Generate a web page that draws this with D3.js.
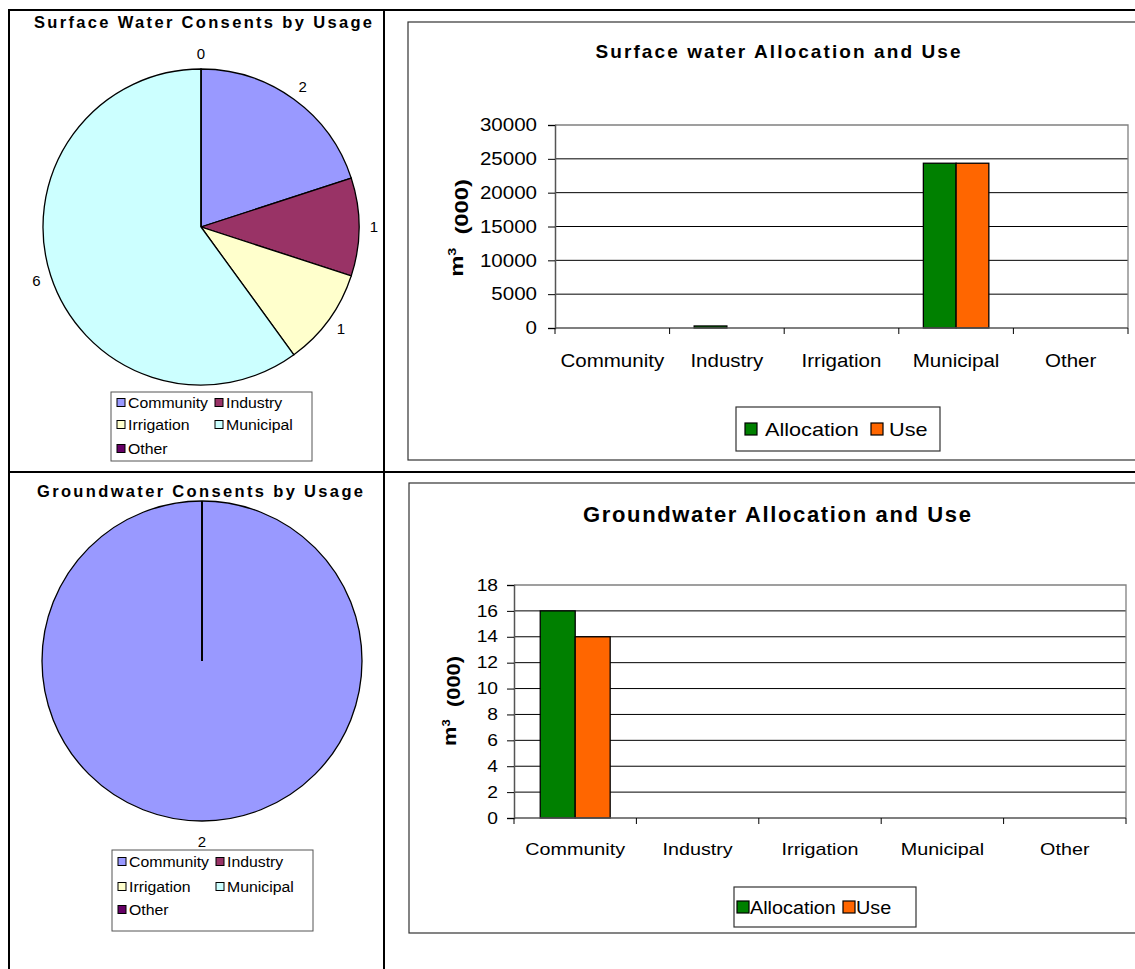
<!DOCTYPE html>
<html><head><meta charset="utf-8">
<script src="https://cdn.jsdelivr.net/npm/d3@7"></script>
<style>
body{margin:0;background:#fff;}
svg{display:block;font-family:Arial,"Liberation Sans",sans-serif;}
</style></head><body>
<svg id="c" width="1135" height="969"></svg>
<script>
// ---- data ----
const usageCategories = ["Community","Industry","Irrigation","Municipal","Other"];
const pieColors = ["#9999FF","#993366","#FFFFCC","#CCFFFF","#660066"];
const surfaceConsents = [2,1,1,6,0];
const groundConsents = [2,null,null,null,null];
const barCategories = ["Community","Industry","Irrigation","Municipal","Other"];
const seriesNames = ["Allocation","Use"];
const seriesColors = ["#008000","#FF6600"];
const surfaceAllocation = [0,300,0,24350,0];
const surfaceUse = [0,0,0,24350,0];
const groundAllocation = [16,0,0,0,0];
const groundUse = [14,0,0,0,0];
const surfaceTicks = [0,5000,10000,15000,20000,25000,30000];
const groundTicks = [0,2,4,6,8,10,12,14,16,18];

const svg = d3.select("#c");

// horizontally widen text like the reference rendering
function stretch(sel,k){
  sel.each(function(){
    const len = this.getComputedTextLength();
    d3.select(this).attr("textLength",len*k).attr("lengthAdjust","spacingAndGlyphs");
  });
}

// ---- table lines ----
const tbl = svg.append("g").attr("stroke","#000").attr("stroke-width",2);
tbl.append("line").attr("x1",8).attr("x2",1135).attr("y1",10).attr("y2",10);
tbl.append("line").attr("x1",8).attr("x2",1135).attr("y1",472).attr("y2",472);
tbl.append("line").attr("x1",9).attr("x2",9).attr("y1",9).attr("y2",969);
tbl.append("line").attr("x1",384).attr("x2",384).attr("y1",9).attr("y2",969);

// ---- pies ----
function drawPie(cfg){
  const g = svg.append("g");
  g.append("text").attr("x",cfg.titleX).attr("y",cfg.titleY).attr("text-anchor","middle")
    .attr("font-weight","bold").attr("font-size",16.5)
    .attr("textLength",cfg.titleLen).attr("lengthAdjust","spacing").text(cfg.title);
  const vals = cfg.values.map(v=>v==null?0:v);
  const pie = d3.pie().sort(null).value(d=>d)(vals);
  const arc = d3.arc().innerRadius(0).outerRadius(cfg.r);
  const pg = g.append("g").attr("transform",`translate(${cfg.cx},${cfg.cy})`);
  pg.selectAll("path").data(pie).join("path").attr("d",arc)
    .attr("fill",(d,i)=>pieColors[i]).attr("stroke","#000").attr("stroke-width",1.3);
  const lab = d3.arc().innerRadius(cfg.r+cfg.lr).outerRadius(cfg.r+cfg.lr);
  pg.selectAll("text").data(pie.filter((d,i)=>cfg.values[i]!=null)).join("text")
    .attr("transform",d=>`translate(${lab.centroid(d)})`)
    .attr("text-anchor","middle").attr("dy","0.36em").attr("font-size",15)
    .text(d=>d.data);
  // legend
  const L = cfg.legend;
  g.append("rect").attr("x",L.x).attr("y",L.y).attr("width",L.w).attr("height",L.h)
    .attr("fill","#fff").attr("stroke","#555").attr("stroke-width",1);
  usageCategories.forEach((c,i)=>{
    const col=i%2, row=Math.floor(i/2);
    const x = L.x + 6 + col*L.colW, y = L.y + L.rows[row];
    g.append("rect").attr("x",x).attr("y",y-4.5).attr("width",8).attr("height",8)
      .attr("fill",pieColors[i]).attr("stroke","#000").attr("stroke-width",1);
    g.append("text").attr("x",x+11).attr("y",y+5).attr("font-size",14).text(c).call(stretch,1.13);
  });
}
drawPie({title:"Surface Water Consents by Usage",titleX:203,titleY:28,titleLen:338,
  values:surfaceConsents,cx:201,cy:227,r:158,lr:15,
  legend:{x:111,y:392,w:201,h:69,colW:98,rows:[11,33,57]}});
drawPie({title:"Groundwater Consents by Usage",titleX:200,titleY:497,titleLen:326,
  values:groundConsents,cx:202,cy:661,r:160,lr:21,
  legend:{x:112,y:850,w:201,h:81,colW:98,rows:[12,37,60]}});

// ---- bar charts ----
function drawBars(cfg){
  const g = svg.append("g");
  g.append("rect").attr("x",cfg.box[0]).attr("y",cfg.box[1]).attr("width",cfg.box[2]).attr("height",cfg.box[3])
    .attr("fill","#fff").attr("stroke","#333").attr("stroke-width",1.2);
  g.append("text").attr("x",cfg.titleX).attr("y",cfg.titleY).attr("text-anchor","middle")
    .attr("font-weight","bold").attr("font-size",cfg.titleSize)
    .attr("textLength",cfg.titleLen).attr("lengthAdjust","spacing").text(cfg.title);
  const [x0,x1,y0,y1] = cfg.plot;
  const x = d3.scaleBand().domain(barCategories).range([x0,x1]).paddingInner(1.5/3.5).paddingOuter(0.75/3.5);
  const xs = d3.scaleBand().domain(seriesNames).range([0,x.bandwidth()]);
  const y = d3.scaleLinear().domain([0,d3.max(cfg.ticks)]).range([y1,y0]);
  // gridlines
  g.append("g").selectAll("line").data(cfg.ticks.filter(t=>t>0 && t<d3.max(cfg.ticks))).join("line")
    .attr("x1",x0).attr("x2",x1).attr("y1",d=>y(d)).attr("y2",d=>y(d))
    .attr("stroke","#000").attr("stroke-width",1);
  // plot border top/right
  g.append("path").attr("d",`M${x0},${y0}H${x1}V${y1}`).attr("fill","none").attr("stroke","#808080").attr("stroke-width",1.3);
  // bars
  const data = [];
  barCategories.forEach((c,i)=>{ [cfg.a[i],cfg.u[i]].forEach((v,j)=>{ if(v>0) data.push({c,s:seriesNames[j],v,j}); }); });
  g.append("g").selectAll("rect").data(data).join("rect")
    .attr("x",d=>x(d.c)+xs(d.s)).attr("width",xs.bandwidth())
    .attr("y",d=>y(d.v)).attr("height",d=>y(0)-y(d.v))
    .attr("fill",d=>seriesColors[d.j]).attr("stroke","#000").attr("stroke-width",1.3);
  // y axis
  const ya = g.append("g").attr("transform",`translate(${x0},0)`)
    .call(d3.axisLeft(y).tickValues(cfg.ticks).tickSize(7).tickPadding(cfg.tickPad).tickFormat(d3.format("d")));
  ya.select(".domain").attr("stroke","#555").attr("stroke-width",1.5);
  ya.selectAll(".tick line").attr("stroke","#000");
  ya.selectAll("text").attr("font-size",cfg.tickSize).attr("font-family",null).attr("fill","#000").call(stretch,cfg.tickK);
  // x axis
  g.append("line").attr("x1",x0).attr("x2",x1).attr("y1",y1).attr("y2",y1).attr("stroke","#555").attr("stroke-width",1.5);
  const step = x.step();
  g.append("g").selectAll("line").data(d3.range(barCategories.length+1)).join("line")
    .attr("x1",i=>x0+i*step).attr("x2",i=>x0+i*step).attr("y1",y1).attr("y2",y1+6)
    .attr("stroke","#000").attr("stroke-width",1);
  g.append("g").selectAll("text").data(barCategories).join("text")
    .attr("x",d=>x(d)+x.bandwidth()/2).attr("y",cfg.catY).attr("text-anchor","middle")
    .attr("font-size",cfg.catSize).text(d=>d).call(stretch,cfg.catK);
  // y label
  const yl = g.append("text").attr("transform",`translate(${cfg.ylab[0]},${cfg.ylab[1]}) rotate(-90)`)
    .attr("text-anchor","middle").attr("font-weight","bold").attr("font-size",cfg.ylabSize);
  yl.append("tspan").text("m");
  yl.append("tspan").attr("dy","-0.6em").attr("font-size",cfg.ylabSize*0.6).text("3");
  yl.append("tspan").attr("dy","0.6em").text("\u00a0\u00a0(000)");
  yl.call(stretch,1.25);
  // legend
  const L = cfg.legend;
  g.append("rect").attr("x",L.x).attr("y",L.y).attr("width",L.w).attr("height",L.h)
    .attr("fill","#fff").attr("stroke","#333").attr("stroke-width",1.2);
  seriesNames.forEach((s,i)=>{
    g.append("rect").attr("x",L.items[i][0]).attr("y",L.y+L.h/2-6).attr("width",12).attr("height",12)
      .attr("fill",seriesColors[i]).attr("stroke","#000").attr("stroke-width",1.2);
    g.append("text").attr("x",L.items[i][1]).attr("y",L.y+L.h/2+7).attr("font-size",L.size).text(s).call(stretch,L.k);
  });
}
drawBars({box:[408,22,740,438],title:"Surface water Allocation and Use",titleX:778,titleY:58,titleSize:19,titleLen:365,
  plot:[555,1128,125,328],ticks:surfaceTicks,a:surfaceAllocation,u:surfaceUse,tickSize:18,tickK:1.14,tickPad:11,
  catSize:18,catK:1.14,catY:367,
  ylab:[463,228],ylabSize:19,
  legend:{x:736,y:407,w:204,h:44,size:19,k:1.14,items:[[745,765],[871,889]]}});
drawBars({box:[409,483,740,450],title:"Groundwater Allocation and Use",titleX:777,titleY:522,titleSize:22,titleLen:388,
  plot:[514,1126,585,818],ticks:groundTicks,a:groundAllocation,u:groundUse,tickSize:16,tickK:1.2,tickPad:9,
  catSize:17,catK:1.16,catY:855,
  ylab:[456,701],ylabSize:17.5,
  legend:{x:734,y:887,w:182,h:40,size:18,k:1.1,items:[[737,750],[843,856]]}});
</script>
</body></html>
